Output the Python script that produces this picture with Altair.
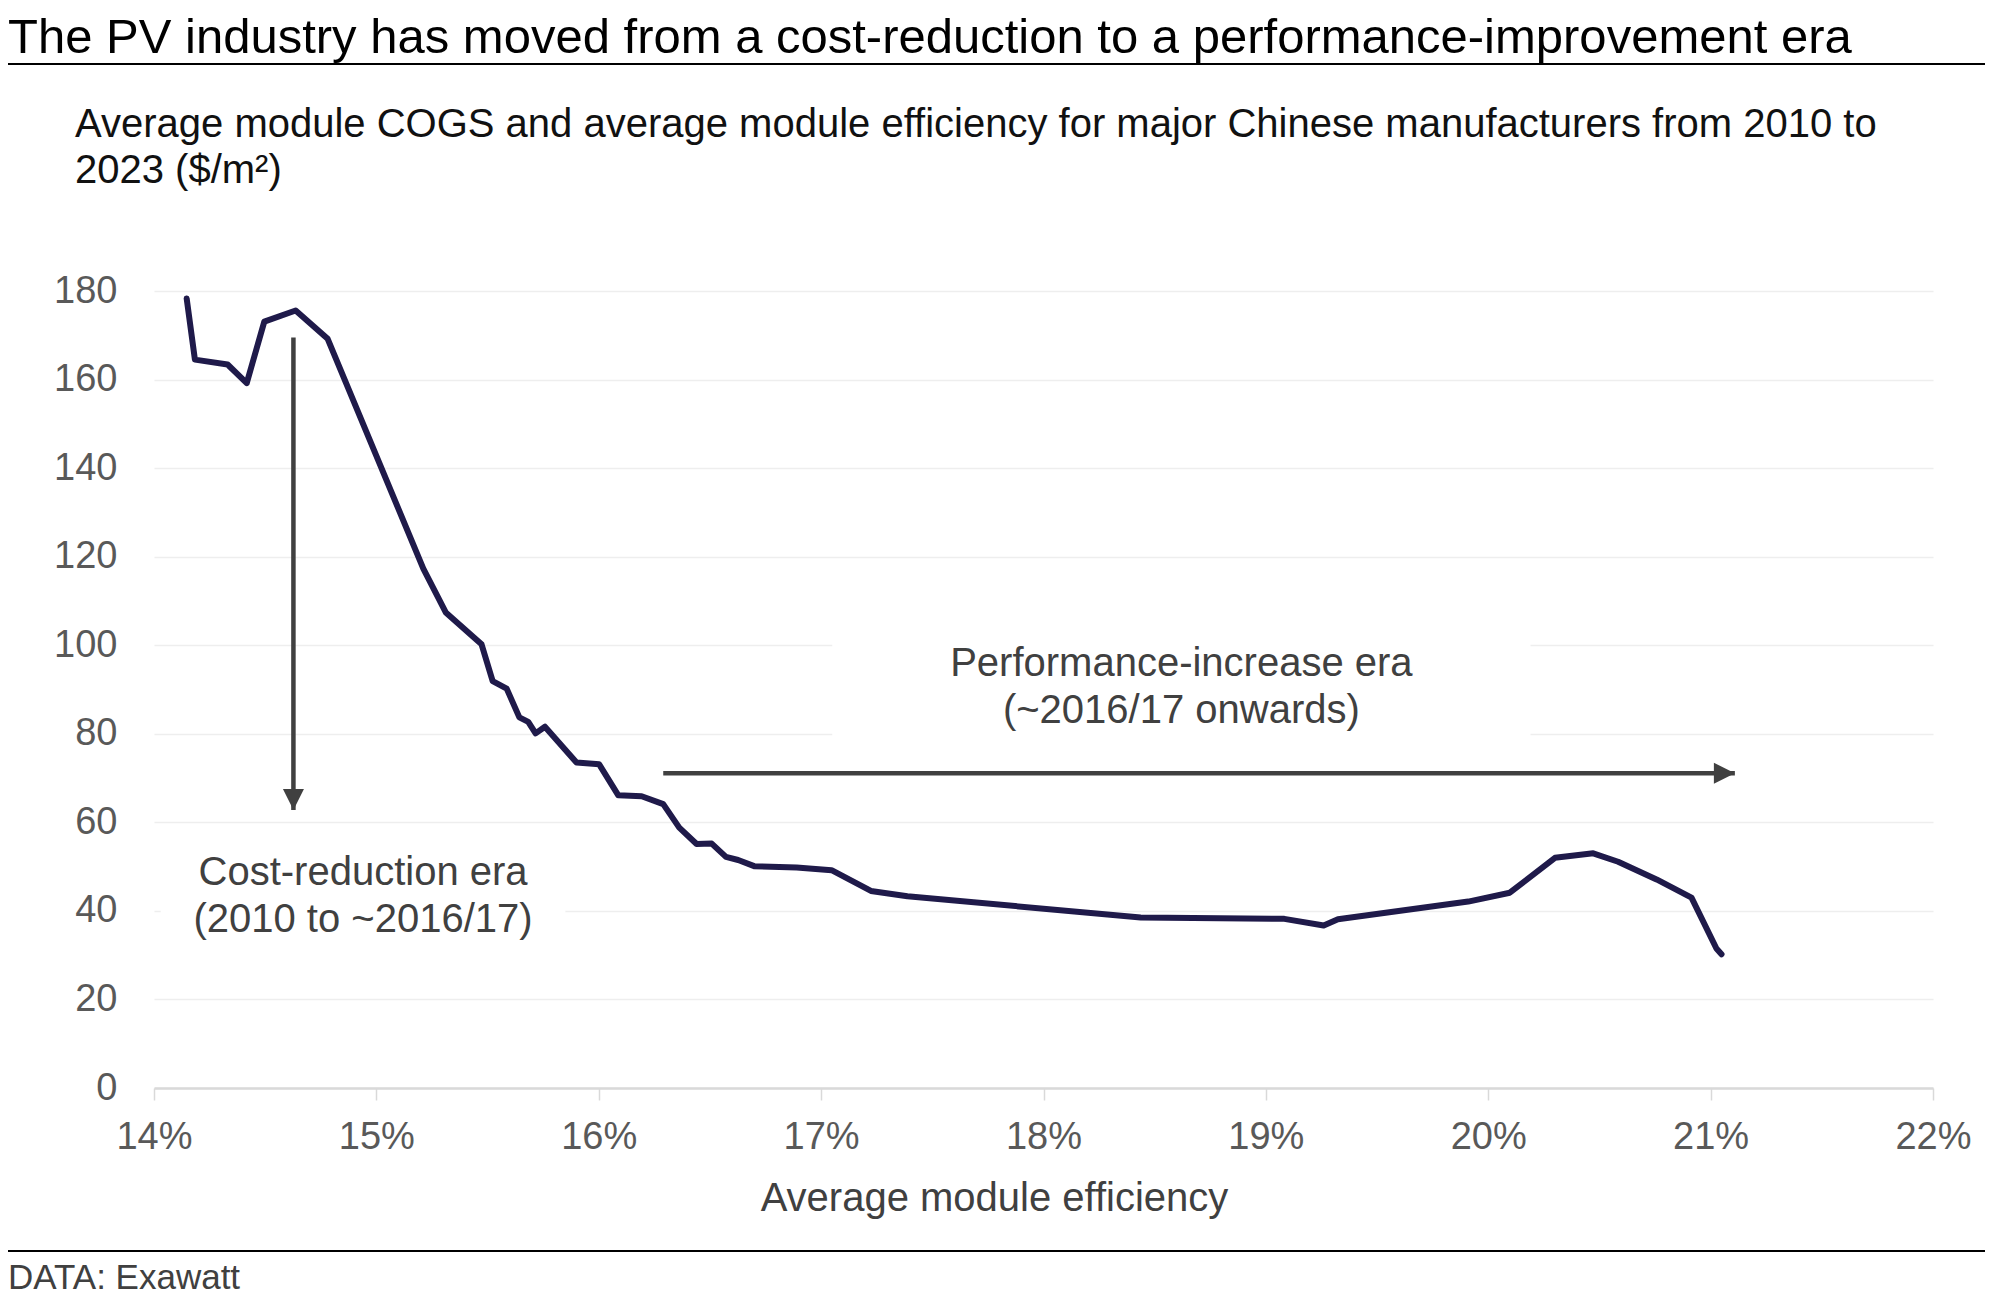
import altair as alt
import pandas as pd

# ---- data ----
efficiency = [14.147, 14.184, 14.331, 14.417, 14.496, 14.637, 14.781, 15.211, 15.312, 15.473,
              15.523, 15.586, 15.643, 15.683, 15.716, 15.758, 15.900, 16.002, 16.088, 16.193,
              16.290, 16.362, 16.440, 16.508, 16.572, 16.627, 16.699, 16.890, 17.047, 17.224,
              17.388, 18.437, 19.083, 19.260, 19.324, 19.910, 20.097, 20.300, 20.472, 20.584,
              20.757, 20.914, 21.026, 21.049]
cogs = [178.3, 164.5, 163.4, 159.2, 173.1, 175.6, 169.2, 117.3, 107.4, 100.2,
        91.9, 90.2, 83.7, 82.7, 80.1, 81.6, 73.5, 73.1, 66.1, 65.9,
        64.1, 58.8, 55.1, 55.2, 52.2, 51.5, 50.1, 49.8, 49.2, 44.5,
        43.3, 38.5, 38.2, 36.7, 38.1, 42.1, 44.1, 52.0, 53.0, 51.1,
        47.1, 43.0, 31.5, 30.2]

x_ticks = [14, 15, 16, 17, 18, 19, 20, 21, 22]
y_ticks = [0, 20, 40, 60, 80, 100, 120, 140, 160, 180]

title_text = "The PV industry has moved from a cost-reduction to a performance-improvement era"
subtitle_lines = ["Average module COGS and average module efficiency for major Chinese manufacturers from 2010 to",
                  "2023 ($/m\u00b2)"]
source_text = "DATA: Exawatt"

ann_labels = [["Cost-reduction era", "(2010 to ~2016/17)"],
              ["Performance-increase era", "(~2016/17 onwards)"]]
ann_x = [14.94, 18.62]
ann_y = [48.6, 95.7]

# white backing boxes behind annotation text (data units)
box_x0 = [14.03, 17.05]
box_x1 = [15.85, 20.19]
box_y0 = [29, 75]
box_y1 = [55, 110]

# arrows (data units): vertical cost arrow, horizontal performance arrow
v_arrow_x = 14.627
v_arrow_top = 169.5
v_arrow_tip = 62.8
h_arrow_y = 71.1
h_arrow_start = 16.29
h_arrow_tip = 21.109

FONT = "Liberation Sans"
LINE_COLOR = "#1f1a4a"
ARROW_COLOR = "#404040"

df = pd.DataFrame({"eff": efficiency, "cogs": cogs})

xscale = alt.Scale(domain=[14, 22], nice=False, zero=False)
yscale = alt.Scale(domain=[0, 180], nice=False)

xaxis = alt.Axis(values=x_ticks, labelExpr="datum.value + '%'", title="Average module efficiency",
                 titleX=840, titleY=122, titleAlign="center", titleBaseline="alphabetic",
                 titleFontSize=40, titleFontWeight="normal", titleColor="#404040", titleFont=FONT,
                 labelFontSize=38, labelColor="#595959", labelFont=FONT, labelPadding=18,
                 labelFlush=False, labelOverlap=False,
                 tickSize=12, tickColor="#d9d9d9", tickWidth=1.5,
                 domainColor="#d9d9d9", domainWidth=2.5, grid=False)
yaxis = alt.Axis(values=y_ticks, title=None, labelFontSize=38, labelColor="#595959", labelFont=FONT,
                 labelPadding=37, ticks=False, domain=False, grid=True,
                 gridColor="#eeeeee", gridWidth=1.5)

base_x = alt.X("eff:Q", scale=xscale, axis=xaxis)
base_y = alt.Y("cogs:Q", scale=yscale, axis=yaxis)

# invisible layer carrying axes
axes_layer = alt.Chart(df).mark_line(opacity=0).encode(x=base_x, y=base_y)

boxes = alt.Chart(pd.DataFrame({"x0": box_x0, "x1": box_x1, "y0": box_y0, "y1": box_y1})).mark_rect(
    color="white").encode(
    x=alt.X("x0:Q", scale=xscale), x2="x1:Q",
    y=alt.Y("y0:Q", scale=yscale), y2="y1:Q")

ann = alt.Chart(pd.DataFrame({"x": ann_x, "y": ann_y, "t": ann_labels})).mark_text(
    font=FONT, fontSize=40, color="#404040", align="center", baseline="middle", lineHeight=47).encode(
    x=alt.X("x:Q", scale=xscale), y=alt.Y("y:Q", scale=yscale), text="t")

v_rule = alt.Chart(pd.DataFrame({"x": [v_arrow_x], "y": [v_arrow_top], "y2": [v_arrow_tip]})).mark_rule(
    color=ARROW_COLOR, strokeWidth=4.5).encode(
    x=alt.X("x:Q", scale=xscale), y=alt.Y("y:Q", scale=yscale), y2="y2:Q")
v_head = alt.Chart(pd.DataFrame({"x": [v_arrow_x], "y": [v_arrow_tip]})).mark_point(
    shape="M-1,-1L1,-1L0,1Z", size=440, filled=True, opacity=1, color=ARROW_COLOR, strokeWidth=0).encode(
    x=alt.X("x:Q", scale=xscale), y=alt.Y("y:Q", scale=yscale), yOffset=alt.value(-10.5))

h_rule = alt.Chart(pd.DataFrame({"x": [h_arrow_start], "x2": [h_arrow_tip], "y": [h_arrow_y]})).mark_rule(
    color=ARROW_COLOR, strokeWidth=4.5).encode(
    x=alt.X("x:Q", scale=xscale), x2="x2:Q", y=alt.Y("y:Q", scale=yscale))
h_head = alt.Chart(pd.DataFrame({"x": [h_arrow_tip], "y": [h_arrow_y]})).mark_point(
    shape="M-1,-1L1,0L-1,1Z", size=440, filled=True, opacity=1, color=ARROW_COLOR, strokeWidth=0).encode(
    x=alt.X("x:Q", scale=xscale), y=alt.Y("y:Q", scale=yscale), xOffset=alt.value(-10.5))

line = alt.Chart(df).mark_line(color=LINE_COLOR, strokeWidth=6, strokeJoin="round", strokeCap="round").encode(
    x=alt.X("eff:Q", scale=xscale), y=alt.Y("cogs:Q", scale=yscale))

one = alt.Data(values=[{"k": 1}])
title_mark = alt.Chart(one).mark_text(font=FONT, fontSize=49, color="#000000", align="left",
                                      baseline="alphabetic").encode(
    x=alt.value(-146), y=alt.value(-238.3), text=alt.value(title_text))
rule_top = alt.Chart(one).mark_rule(color="#000000", strokeWidth=2.2).encode(
    x=alt.value(-146), x2=alt.value(1831), y=alt.value(-227))
subtitle_mark = alt.Chart(one).mark_text(font=FONT, fontSize=40, color="#111111", align="left",
                                         baseline="alphabetic", lineHeight=46.7).encode(
    x=alt.value(-79), y=alt.value(-154.3), text=alt.value(subtitle_lines))
rule_bottom = alt.Chart(one).mark_rule(color="#000000", strokeWidth=2.2).encode(
    x=alt.value(-146), x2=alt.value(1831), y=alt.value(960))
source_mark = alt.Chart(one).mark_text(font=FONT, fontSize=35, color="#404040", align="left",
                                       baseline="alphabetic").encode(
    x=alt.value(-146), y=alt.value(998), text=alt.value(source_text))

chart = alt.layer(axes_layer, boxes, ann, v_rule, v_head, h_rule, h_head, line,
                  title_mark, rule_top, subtitle_mark, rule_bottom, source_mark).properties(
    width=1779, height=797,
    padding={"left": 146, "top": 283, "right": 52, "bottom": 210},
    autosize=alt.AutoSizeParams(type="none"),
    background="white",
).configure_view(strokeWidth=0)

chart.save("out.html", embed_options={"renderer": "svg", "actions": False})
